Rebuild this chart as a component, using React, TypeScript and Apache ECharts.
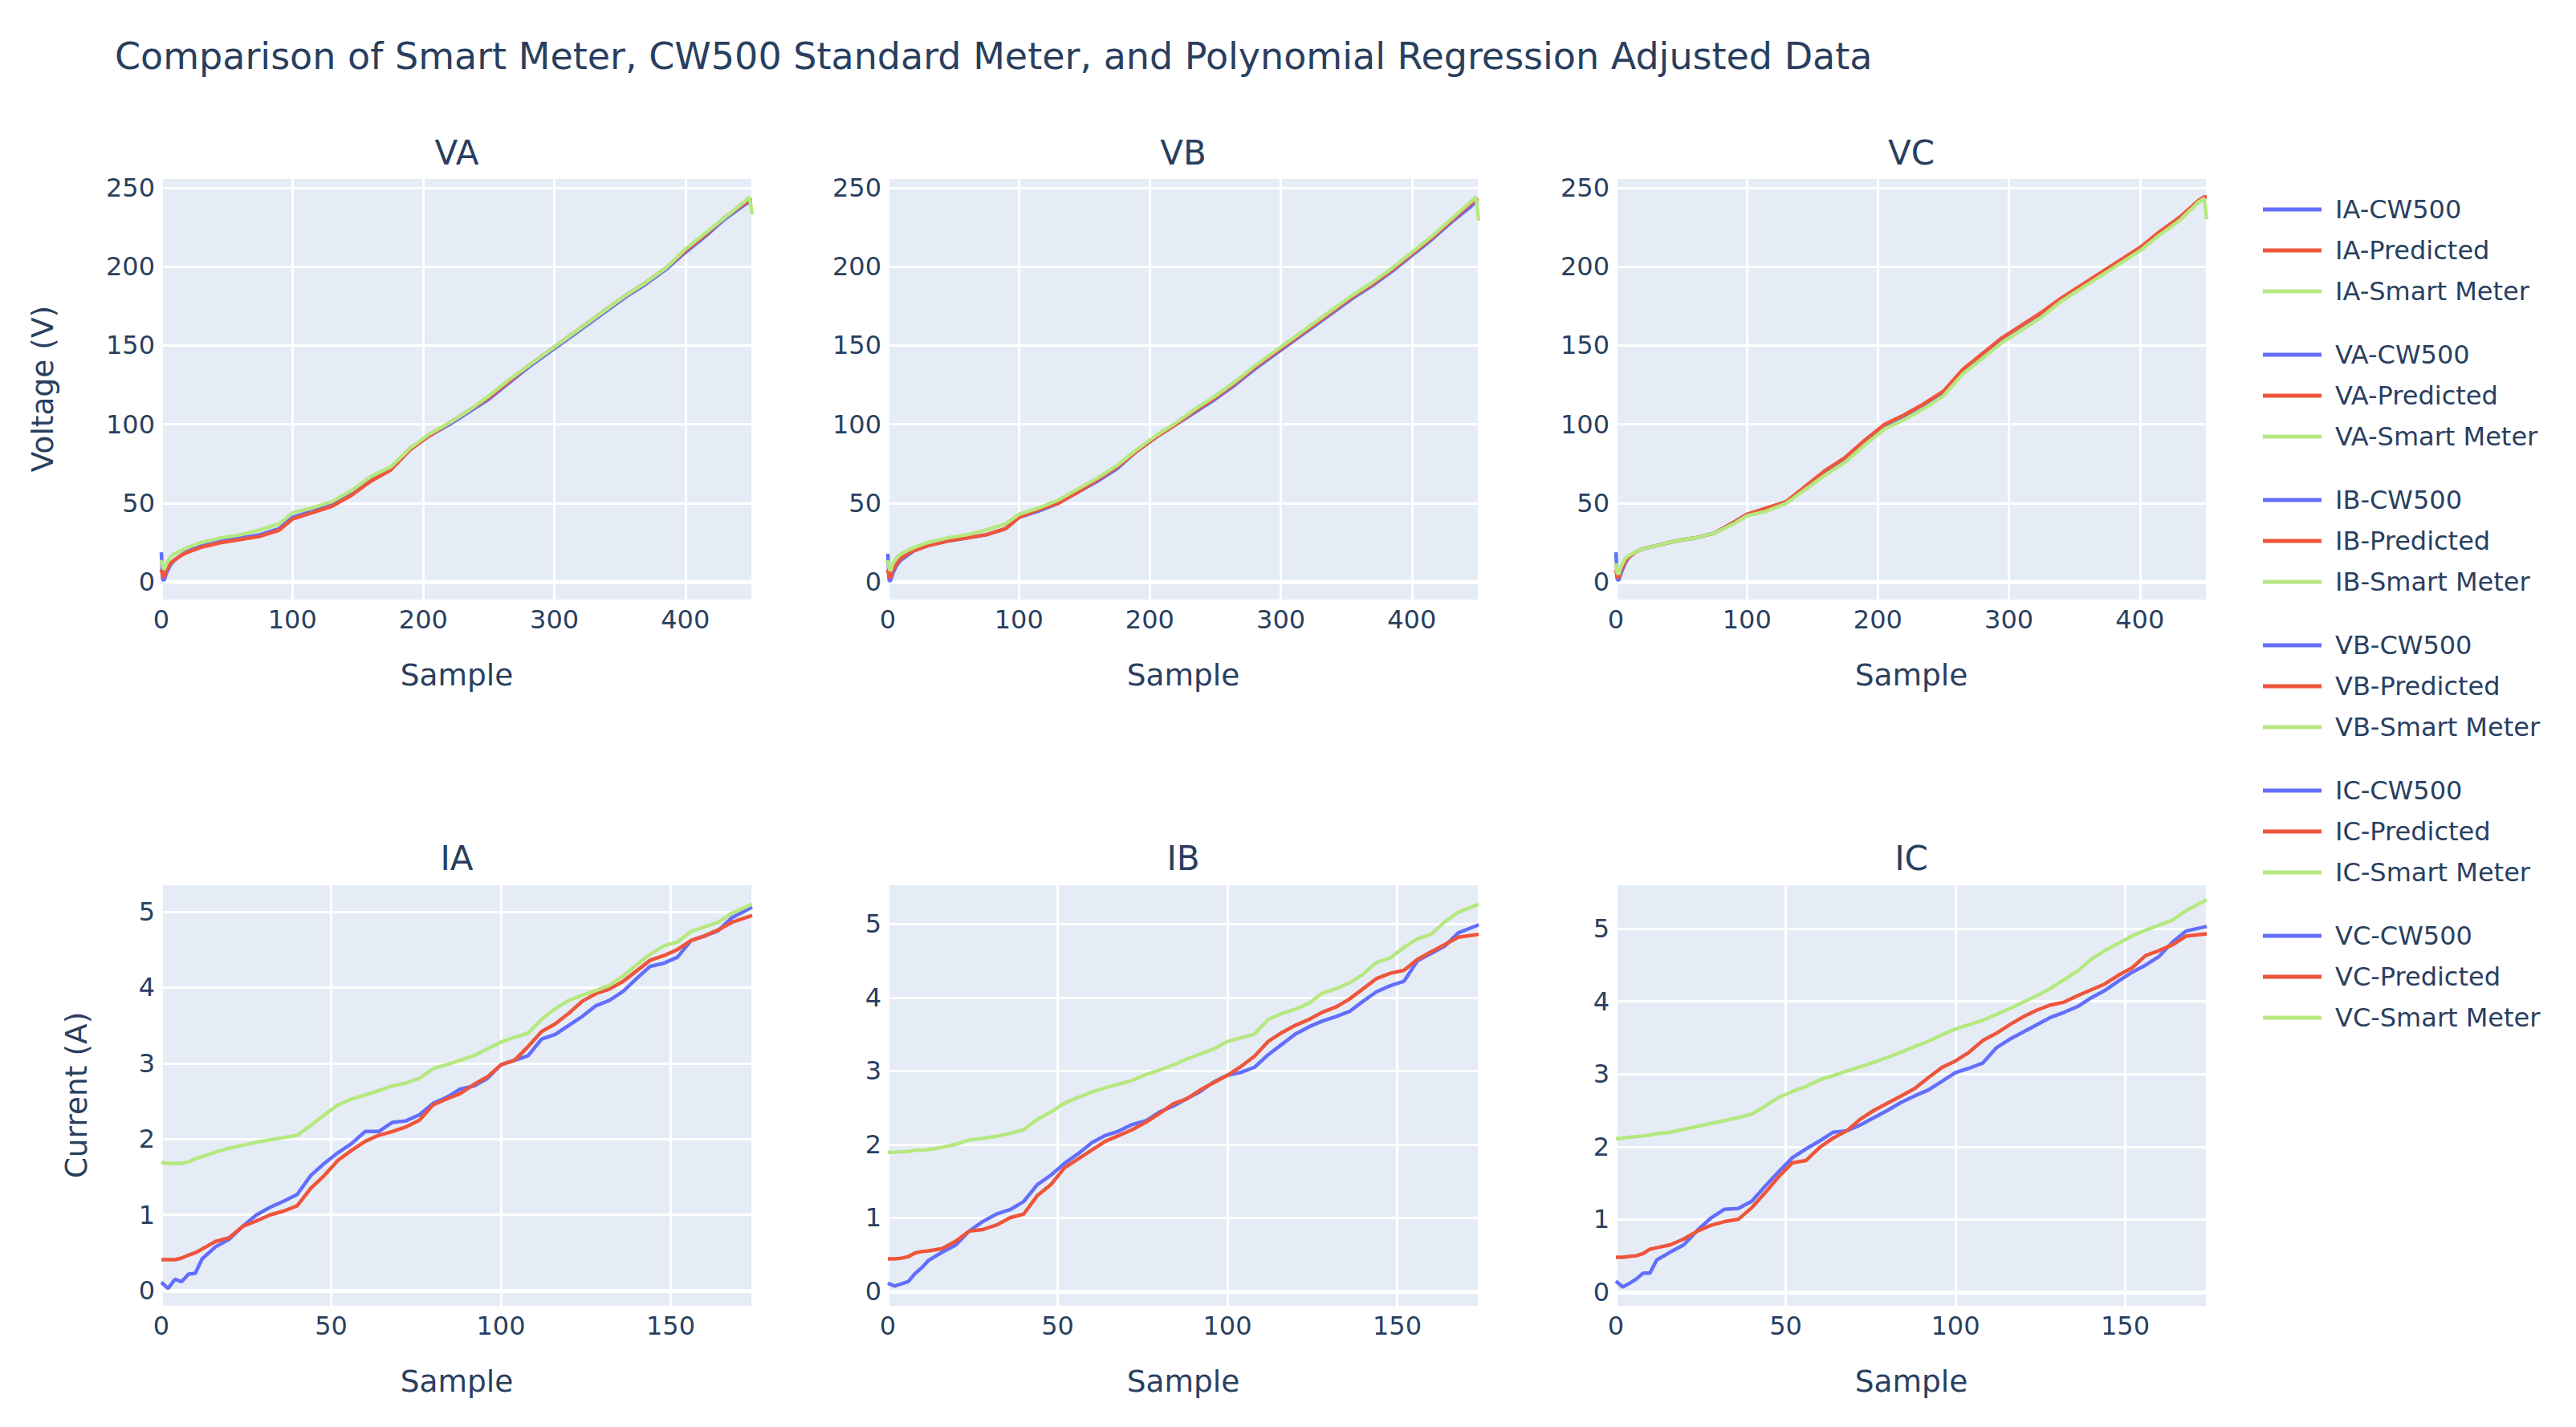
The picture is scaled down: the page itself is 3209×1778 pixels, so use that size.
import React, { useEffect, useRef } from "react";
import * as echarts from "echarts";

const TITLE = "Comparison of Smart Meter, CW500 Standard Meter, and Polynomial Regression Adjusted Data";
const PANELS = ["VA", "VB", "VC", "IA", "IB", "IC"];
const LEGEND_GROUPS = ["IA", "VA", "IB", "VB", "IC", "VC"];
const SOURCES = ["CW500", "Predicted", "Smart Meter"];
const SOURCE_COLORS = ["#636EFA", "#EF553B", "#B6E880"];
const X_NAME = "Sample";
const VOLT_NAME = "Voltage (V)";
const CURR_NAME = "Current (A)";

// sample positions (x)
const voltX = [0, 1, 2, 4, 7, 10, 15, 20, 30, 45, 60, 75, 90, 100, 115, 130, 145, 160, 175, 190, 205, 220, 235, 250, 265, 280, 295, 310, 325, 340, 355, 370, 385, 400, 415, 430, 445, 449, 451];
const currX = [0, 2, 4, 6, 8, 10, 12, 16, 20, 24, 28, 32, 36, 40, 44, 48, 52, 56, 60, 64, 68, 72, 76, 80, 84, 88, 92, 96, 100, 104, 108, 112, 116, 120, 124, 128, 132, 136, 140, 144, 148, 152, 156, 160, 164, 168, 174];

// voltage series
const VA_CW500 = [19, 2, 1, 6, 11, 14, 17, 20, 23, 26, 28, 30, 34, 41, 45, 49, 56, 65, 72, 85, 93, 100, 108, 116, 126, 136, 145, 154, 163, 172, 181, 189, 198, 209, 219, 230, 239, 241, 241];
const VA_Predicted = [8, 4, 3, 8, 12, 14, 17, 19, 22, 25, 27, 29, 33, 40, 44, 48, 55, 64, 71, 84, 93, 101, 109, 117, 127, 137, 146, 155, 164, 173, 182, 190, 199, 210, 220, 231, 240, 242, 242];
const VA_Smart = [14, 10, 8, 12, 16, 18, 20, 22, 25, 28, 30, 33, 37, 44, 47, 51, 58, 67, 73, 85, 94, 101, 109, 118, 128, 137, 146, 155, 164, 173, 182, 190, 199, 211, 221, 231, 241, 244, 233];

const VB_CW500 = [18, 1, 1, 6, 11, 14, 17, 20, 23, 26, 28, 30, 34, 41, 45, 50, 57, 64, 72, 83, 92, 100, 108, 116, 125, 135, 144, 153, 162, 171, 180, 188, 197, 207, 217, 228, 238, 241, 241];
const VB_Predicted = [8, 3, 3, 8, 12, 15, 18, 20, 23, 26, 28, 30, 34, 41, 46, 50, 57, 65, 73, 83, 92, 100, 109, 117, 126, 136, 145, 154, 163, 172, 181, 189, 198, 208, 218, 229, 240, 242, 242];
const VB_Smart = [14, 9, 7, 12, 16, 18, 20, 22, 25, 28, 30, 33, 37, 43, 47, 52, 59, 66, 74, 84, 93, 101, 110, 118, 127, 137, 146, 155, 164, 173, 182, 190, 199, 209, 219, 230, 241, 244, 229];

const VC_CW500 = [19, 2, 1, 6, 12, 16, 19, 21, 23, 26, 28, 31, 38, 43, 46, 51, 60, 70, 78, 89, 99, 105, 112, 120, 134, 144, 154, 162, 170, 179, 187, 195, 203, 211, 221, 230, 241, 244, 244];
const VC_Predicted = [8, 3, 3, 8, 13, 16, 19, 21, 23, 26, 28, 31, 38, 43, 47, 51, 61, 71, 79, 90, 100, 106, 113, 121, 135, 145, 155, 163, 171, 180, 188, 196, 204, 212, 222, 231, 242, 244, 244];
const VC_Smart = [12, 6, 5, 10, 15, 17, 19, 21, 23, 26, 28, 31, 37, 42, 45, 50, 59, 68, 76, 87, 97, 103, 110, 118, 132, 142, 152, 160, 168, 178, 186, 194, 202, 210, 220, 229, 241, 243, 230];

// current series
const IA_CW500 = [0.11, 0.03, 0.15, 0.12, 0.22, 0.23, 0.42, 0.58, 0.68, 0.85, 1.0, 1.1, 1.18, 1.27, 1.52, 1.68, 1.82, 1.94, 2.1, 2.1, 2.22, 2.24, 2.32, 2.47, 2.55, 2.66, 2.7, 2.8, 2.98, 3.04, 3.1, 3.32, 3.38, 3.5, 3.62, 3.76, 3.83, 3.95, 4.12, 4.28, 4.32, 4.4, 4.62, 4.68, 4.75, 4.92, 5.06];
const IA_Predicted = [0.41, 0.41, 0.41, 0.43, 0.47, 0.5, 0.55, 0.65, 0.7, 0.85, 0.92, 1.0, 1.05, 1.12, 1.35, 1.52, 1.72, 1.85, 1.97, 2.05, 2.1, 2.16, 2.25, 2.45, 2.53, 2.6, 2.72, 2.82, 2.98, 3.04, 3.22, 3.42, 3.52, 3.66, 3.82, 3.92, 3.98, 4.08, 4.22, 4.36, 4.42, 4.5, 4.62, 4.68, 4.76, 4.86, 4.95];
const IA_Smart = [1.69, 1.68, 1.68, 1.68, 1.7, 1.74, 1.77, 1.83, 1.88, 1.92, 1.96, 1.99, 2.02, 2.05, 2.18, 2.32, 2.45, 2.53, 2.58, 2.64, 2.7, 2.74, 2.8, 2.93, 2.98, 3.04, 3.1, 3.19, 3.28, 3.34, 3.4, 3.58, 3.72, 3.83, 3.9, 3.96, 4.03, 4.15, 4.3, 4.44, 4.55, 4.6, 4.74, 4.8, 4.86, 4.98, 5.1];

const IB_CW500 = [0.11, 0.07, 0.1, 0.13, 0.24, 0.32, 0.42, 0.53, 0.63, 0.82, 0.95, 1.05, 1.11, 1.22, 1.45, 1.58, 1.74, 1.87, 2.02, 2.12, 2.18, 2.27, 2.32, 2.44, 2.52, 2.62, 2.72, 2.85, 2.94, 2.98, 3.05, 3.22, 3.36, 3.5, 3.6, 3.68, 3.74, 3.81, 3.95, 4.08, 4.16, 4.22, 4.5, 4.6, 4.7, 4.88, 4.99];
const IB_Predicted = [0.44, 0.44, 0.45, 0.47, 0.52, 0.54, 0.55, 0.58, 0.68, 0.82, 0.84, 0.9, 1.0, 1.05, 1.3, 1.45, 1.68, 1.8, 1.92, 2.04, 2.12, 2.2, 2.3, 2.42, 2.55, 2.62, 2.74, 2.84, 2.94, 3.06, 3.2, 3.4, 3.52, 3.62, 3.7, 3.8, 3.87, 3.98, 4.12, 4.26, 4.33, 4.37, 4.52, 4.62, 4.72, 4.82, 4.86];
const IB_Smart = [1.89, 1.89, 1.9, 1.9, 1.92, 1.92, 1.93, 1.96, 2.0, 2.06, 2.08, 2.11, 2.15, 2.2, 2.34, 2.44, 2.56, 2.64, 2.71, 2.77, 2.82, 2.87, 2.95, 3.01, 3.08, 3.16, 3.23, 3.3, 3.4, 3.45, 3.5, 3.7, 3.78, 3.84, 3.92, 4.06, 4.12, 4.2, 4.32, 4.48, 4.54, 4.68, 4.8, 4.86, 5.03, 5.16, 5.27];

const IC_CW500 = [0.15, 0.07, 0.12, 0.18, 0.26, 0.26, 0.44, 0.55, 0.65, 0.85, 1.02, 1.14, 1.15, 1.25, 1.46, 1.66, 1.85, 1.97, 2.08, 2.2, 2.22, 2.3, 2.4, 2.5, 2.61, 2.7, 2.78, 2.9, 3.02, 3.08, 3.15, 3.36, 3.48, 3.58, 3.68, 3.78, 3.85, 3.93, 4.05, 4.15, 4.28, 4.4, 4.5, 4.62, 4.82, 4.97, 5.03];
const IC_Predicted = [0.48, 0.48, 0.49, 0.5, 0.53, 0.59, 0.61, 0.65, 0.73, 0.84, 0.92, 0.97, 1.0, 1.16, 1.37, 1.59, 1.78, 1.81, 1.99, 2.12, 2.22, 2.38, 2.5, 2.6, 2.7, 2.8, 2.95, 3.09, 3.18, 3.3, 3.46, 3.56, 3.68, 3.79, 3.88, 3.95, 3.99, 4.08, 4.16, 4.24, 4.36, 4.46, 4.63, 4.7, 4.78, 4.9, 4.93];
const IC_Smart = [2.11, 2.12, 2.13, 2.14, 2.15, 2.16, 2.18, 2.2, 2.24, 2.28, 2.32, 2.36, 2.4, 2.45, 2.56, 2.68, 2.76, 2.83, 2.92, 2.98, 3.04, 3.1, 3.16, 3.23, 3.3, 3.38, 3.45, 3.54, 3.62, 3.68, 3.74, 3.82, 3.9, 3.99, 4.08, 4.18, 4.3, 4.42, 4.58, 4.7, 4.8, 4.9, 4.98, 5.05, 5.12, 5.25, 5.4];

// axis ranges (plotly autorange)
const VOLT_RANGE = [-11.5, 256.5];
const X_VOLT_MAX = 451;
const X_CURR_MAX = 174;
const CURR_RANGES: Record<string, number[]> = { IA: [-0.21, 5.37], IB: [-0.21, 5.55], IC: [-0.2, 5.62] };

const VALUES: Record<string, number[][]> = {
  VA: [VA_CW500, VA_Predicted, VA_Smart],
  VB: [VB_CW500, VB_Predicted, VB_Smart],
  VC: [VC_CW500, VC_Predicted, VC_Smart],
  IA: [IA_CW500, IA_Predicted, IA_Smart],
  IB: [IB_CW500, IB_Predicted, IB_Smart],
  IC: [IC_CW500, IC_Predicted, IC_Smart],
};

const FONT = "DejaVu Sans";
const TXT = "#2a3f5f";

export default function App() {
  const ref = useRef<HTMLDivElement>(null);
  useEffect(() => {
    if (!ref.current) return;
    const chart = echarts.init(ref.current, null, { renderer: "svg" });
    const lefts = [201, 1106, 2013];
    const tops = [221, 1101];
    const W = 736;
    const H = 527;

    const grids: any[] = [];
    const xAxes: any[] = [];
    const zeroAxes: any[] = [];
    const yAxes: any[] = [];
    const graphics: any[] = [
      {
        type: "text",
        x: 143,
        y: 70,
        style: { text: TITLE, fill: TXT, font: `46px "${FONT}"`, textAlign: "left", textVerticalAlign: "middle" },
      },
    ];

    PANELS.forEach((p, g) => {
      const col = g % 3;
      const row = Math.floor(g / 3);
      const isVolt = row === 0;
      grids.push({
        left: lefts[col],
        top: tops[row],
        width: W,
        height: H,
        show: true,
        backgroundColor: "#E5ECF6",
        borderWidth: 0,
        containLabel: false,
        outerBoundsMode: "none",
      });
      graphics.push({
        type: "text",
        x: lefts[col] + W / 2,
        y: row === 0 ? 190 : 1069,
        style: { text: p, fill: TXT, font: `42px "${FONT}"`, textAlign: "center", textVerticalAlign: "middle" },
      });
      xAxes.push({
        type: "value",
        gridIndex: g,
        min: 0,
        max: isVolt ? X_VOLT_MAX : X_CURR_MAX,
        splitNumber: 4,
        name: X_NAME,
        nameLocation: "middle",
        nameGap: 74,
        nameMoveOverlap: false,
        nameTextStyle: { color: TXT, fontFamily: FONT, fontSize: 37.5 },
        axisLine: { show: false, onZero: false },
        axisTick: { show: false },
        axisLabel: { color: TXT, fontFamily: FONT, fontSize: 32, margin: 8, showMaxLabel: false },
        splitLine: { show: true, lineStyle: { color: "#ffffff", width: 3 } },
      });
      zeroAxes.push({
        type: "value",
        gridIndex: g,
        min: 0,
        max: isVolt ? X_VOLT_MAX : X_CURR_MAX,
        axisLine: { show: true, onZero: true, lineStyle: { color: "#ffffff", width: 5 } },
        axisTick: { show: false },
        axisLabel: { show: false },
        splitLine: { show: false },
      });
      const yr = isVolt ? VOLT_RANGE : CURR_RANGES[p];
      yAxes.push({
        type: "value",
        gridIndex: g,
        min: yr[0],
        max: yr[1],
        splitNumber: 5,
        name: col === 0 ? (isVolt ? VOLT_NAME : CURR_NAME) : "",
        nameLocation: "middle",
        nameGap: isVolt ? 129 : 87,
        nameMoveOverlap: false,
        nameTextStyle: { color: TXT, fontFamily: FONT, fontSize: 37.5 },
        axisLine: { show: false },
        axisTick: { show: false },
        axisLabel: { color: TXT, fontFamily: FONT, fontSize: 32, margin: 8, showMinLabel: false, showMaxLabel: false },
        splitLine: { show: true, lineStyle: { color: "#ffffff", width: 3 } },
      });
    });

    const series: any[] = [];
    LEGEND_GROUPS.forEach((grp) => {
      const g = PANELS.indexOf(grp);
      const xs = g < 3 ? voltX : currX;
      VALUES[grp].forEach((ys, k) => {
        series.push({
          type: "line",
          name: `${grp}-${SOURCES[k]}`,
          xAxisIndex: g,
          yAxisIndex: g,
          data: xs.map((x, i) => [x, ys[i]]),
          symbol: "none",
          showSymbol: false,
          color: SOURCE_COLORS[k],
          lineStyle: { width: 4.5, color: SOURCE_COLORS[k] },
          itemStyle: { color: SOURCE_COLORS[k] },
          silent: true,
        });
      });
    });

    const legends = LEGEND_GROUPS.map((grp, i) => ({
      data: SOURCES.map((s) => ({ name: `${grp}-${s}`, icon: "rect" })),
      orient: "vertical",
      left: 2819,
      top: 245 + i * 181,
      padding: 0,
      icon: "rect",
      itemWidth: 73,
      itemHeight: 5,
      itemGap: 19,
      selectedMode: false,
      textStyle: { color: TXT, fontFamily: FONT, fontSize: 32, padding: [0, 0, 0, 12] },
    }));

    chart.setOption({
      animation: false,
      backgroundColor: "#ffffff",
      grid: grids,
      xAxis: [...xAxes, ...zeroAxes],
      yAxis: yAxes,
      legend: legends,
      series,
      graphic: graphics,
    });
    return () => chart.dispose();
  }, []);
  return <div ref={ref} style={{ position: "fixed", left: 0, top: 0, width: 3209, height: 1778 }} />;
}
